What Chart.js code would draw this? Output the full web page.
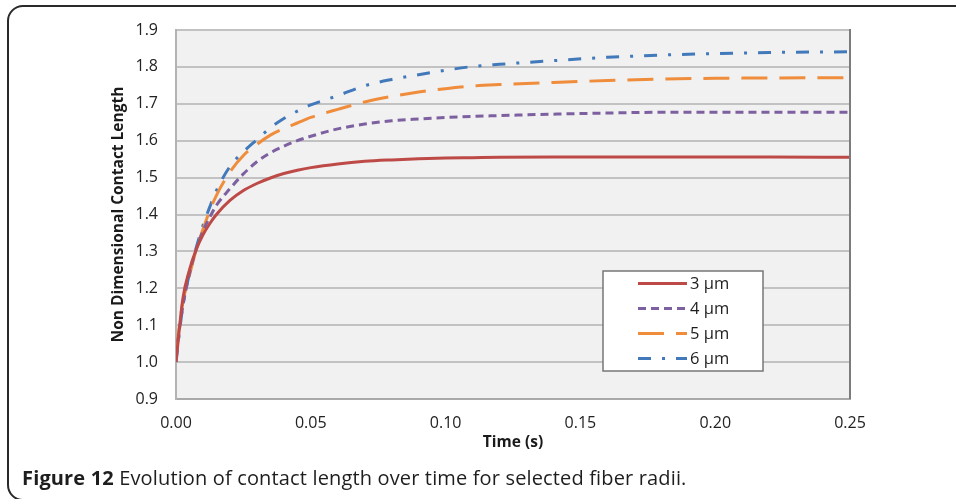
<!DOCTYPE html>
<html>
<head>
<meta charset="utf-8">
<script src="https://cdn.jsdelivr.net/npm/chart.js@4.4.1/dist/chart.umd.min.js"></script>
<style>
  body { margin: 0; background: #fff; }
  #wrap { position: relative; width: 956px; height: 499px; overflow: hidden; }
  #frame {
    position: absolute; left: 7px; top: 5px; width: 1000px; height: 492px;
    border: 2px solid #2a2a2a; border-radius: 16px;
  }
  #chart { position: absolute; left: 0; top: 0; }
  #caption {
    position: absolute; left: 22px; top: 465px;
    font-family: "Open Sans", sans-serif; font-size: 20px; color: #1e1e1e;
    white-space: nowrap; line-height: 26px; letter-spacing: 0.15px;
  }
  #caption b { font-weight: 700; }
</style>
</head>
<body>
<div id="wrap">
  <div id="frame"></div>
  <canvas id="chart" width="956" height="499"></canvas>
  <div id="caption"><b>Figure 12</b> Evolution of contact length over time for selected fiber radii.</div>
</div>
<script>
// time in seconds
const times = [0, 0.0025, 0.005, 0.0075, 0.01, 0.0125, 0.015, 0.02, 0.025, 0.03, 0.035, 0.04, 0.045,
    0.05, 0.06, 0.07, 0.08, 0.09, 0.10, 0.11, 0.12, 0.14, 0.16, 0.18, 0.20, 0.22, 0.25];

const r3 = [1.00, 1.17, 1.25, 1.305, 1.345, 1.375, 1.40, 1.438, 1.465, 1.484, 1.499, 1.511, 1.520,
    1.527, 1.537, 1.544, 1.548, 1.551, 1.553, 1.554, 1.555, 1.556, 1.556, 1.556, 1.556, 1.556, 1.555];
const r4 = [1.02, 1.15, 1.24, 1.305, 1.355, 1.392, 1.425, 1.47, 1.51, 1.543, 1.567, 1.585, 1.60,
    1.612, 1.632, 1.645, 1.654, 1.659, 1.663, 1.666, 1.668, 1.672, 1.675, 1.677, 1.677, 1.677, 1.677];
const r5 = [1.03, 1.16, 1.235, 1.305, 1.36, 1.41, 1.452, 1.515, 1.56, 1.59, 1.615, 1.633, 1.648,
    1.663, 1.685, 1.705, 1.72, 1.732, 1.741, 1.748, 1.752, 1.758, 1.763, 1.767, 1.769, 1.770, 1.771];
const r6 = [1.00, 1.15, 1.24, 1.31, 1.37, 1.42, 1.465, 1.53, 1.57, 1.603, 1.635, 1.66, 1.68,
    1.697, 1.722, 1.749, 1.766, 1.779, 1.791, 1.801, 1.807, 1.817, 1.826, 1.832, 1.836, 1.839, 1.841];

const seriesNames = ['3 µm', '4 µm', '5 µm', '6 µm'];
const xTicks = [0, 0.05, 0.10, 0.15, 0.20, 0.25];
const yTicks = [0.9, 1.0, 1.1, 1.2, 1.3, 1.4, 1.5, 1.6, 1.7, 1.8, 1.9];

const toPts = (ys) => times.map((t, i) => ({ x: t, y: ys[i] }));

const styles = [
    { color: '#bd4a47', dash: [] },
    { color: '#7d60a0', dash: [8, 5] },
    { color: '#ef8d3c', dash: [26, 12] },
    { color: '#4279ba', dash: [13, 11, 3, 11] },
];

const datasets = [r3, r4, r5, r6].map((ys, i) => ({
    label: seriesNames[i],
    data: toPts(ys),
    borderColor: styles[i].color,
    borderDash: styles[i].dash,
    borderWidth: 3,
    pointRadius: 0,
    fill: false,
    cubicInterpolationMode: 'monotone',
}));

// plot area background + right border
const plotBg = {
    id: 'plotBg',
    beforeDraw(chart) {
        const { ctx, chartArea: a } = chart;
        ctx.save();
        ctx.fillStyle = '#f1f1f1';
        ctx.fillRect(a.left, a.top, a.right - a.left, a.bottom - a.top);
        ctx.restore();
    },
    afterDraw(chart) {
        const { ctx, chartArea: a } = chart;
        ctx.save();
        ctx.strokeStyle = '#7c7c7c';
        ctx.lineWidth = 2;
        ctx.beginPath();
        ctx.moveTo(a.right, a.top - 1);
        ctx.lineTo(a.right, a.bottom);
        ctx.stroke();
        ctx.restore();
    }
};

// legend box inside plot, like the excel one
const boxLegend = {
    id: 'boxLegend',
    afterDraw(chart) {
        const { ctx, chartArea: a } = chart;
        const x0 = a.left + 427, y0 = a.top + 241;
        ctx.save();
        ctx.fillStyle = '#fff';
        ctx.fillRect(x0, y0, 160, 100);
        ctx.strokeStyle = '#777';
        ctx.lineWidth = 1.5;
        ctx.strokeRect(x0, y0, 160, 100);
        chart.data.datasets.forEach((ds, i) => {
            const y = y0 + 12.5 + i * 25;
            ctx.strokeStyle = ds.borderColor;
            ctx.lineWidth = 3;
            ctx.setLineDash(ds.borderDash);
            ctx.beginPath();
            ctx.moveTo(x0 + 35, y);
            ctx.lineTo(x0 + 84, y);
            ctx.stroke();
            ctx.setLineDash([]);
            ctx.fillStyle = '#1e1e1e';
            ctx.font = '16.5px "Open Sans"';
            ctx.textBaseline = 'middle';
            ctx.fillText(ds.label, x0 + 87, y + 1);
        });
        ctx.restore();
    }
};

const config = {
    type: 'line',
    data: { datasets: datasets },
    options: {
        responsive: false,
        animation: false,
        layout: { padding: { left: 100, top: 30, right: 106, bottom: 47 } },
        plugins: {
            legend: { display: false },
            tooltip: { enabled: false },
        },
        scales: {
            x: {
                type: 'linear',
                min: 0,
                max: 0.25,
                afterFit: (s) => { s.height = 53; },
                afterBuildTicks: (s) => { s.ticks = xTicks.map(v => ({ value: v })); },
                grid: { display: false, drawTicks: false },
                border: { color: '#a9a9a9', width: 2 },
                ticks: {
                    padding: 15,
                    color: '#222',
                    font: { family: 'Open Sans', size: 16 },
                    callback: (v) => v.toFixed(2),
                },
                title: {
                    display: true,
                    text: 'Time (s)',
                    color: '#1a1a1a',
                    font: { family: 'Open Sans', size: 15.5, weight: 'bold' },
                    padding: { top: 0, bottom: 0 },
                },
            },
            y: {
                min: 0.9,
                max: 1.9,
                afterFit: (s) => { s.width = 76; },
                afterBuildTicks: (s) => { s.ticks = yTicks.map(v => ({ value: v })); },
                grid: { color: '#c2c2c2', lineWidth: 2, drawTicks: false },
                border: { color: '#b3b3b3', width: 2 },
                ticks: {
                    padding: 18,
                    color: '#222',
                    font: { family: 'Open Sans', size: 16 },
                    callback: (v) => v.toFixed(1),
                },
                title: {
                    display: true,
                    text: 'Non Dimensional Contact Length',
                    color: '#1a1a1a',
                    font: { family: 'Open Sans', size: 15.5, weight: 'bold' },
                    padding: { top: 9, bottom: 0 },
                },
            },
        },
    },
    plugins: [plotBg, boxLegend],
};

new Chart(document.getElementById('chart'), config);
</script>
</body>
</html>
